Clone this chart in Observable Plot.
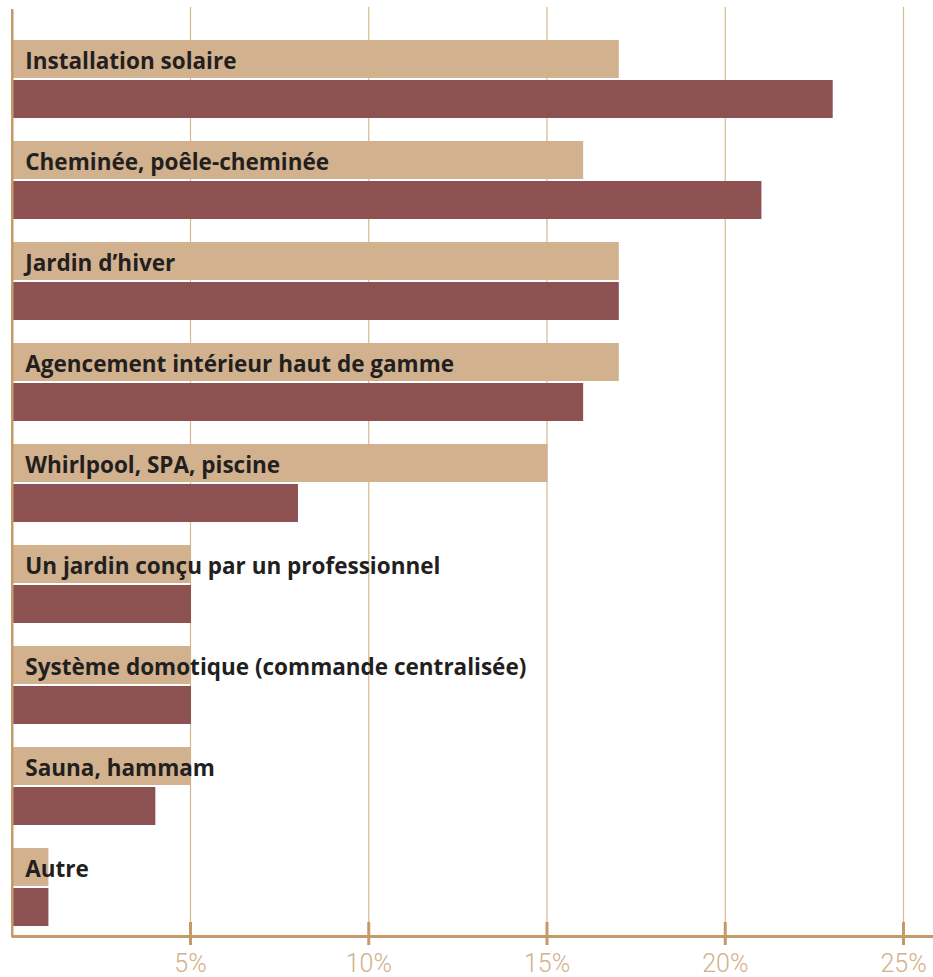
<!DOCTYPE html>
<html>
<head>
<meta charset="utf-8">
<script src="https://cdn.jsdelivr.net/npm/d3@7"></script>
<script src="https://cdn.jsdelivr.net/npm/@observablehq/plot@0.6"></script>
<style>
  html, body { margin: 0; padding: 0; background: #fff; }
</style>
</head>
<body>
<div id="chart"></div>
<script>
const categories = [
  "Installation solaire",
  "Cheminée, poêle-cheminée",
  "Jardin d’hiver",
  "Agencement intérieur haut de gamme",
  "Whirlpool, SPA, piscine",
  "Un jardin conçu par un professionnel",
  "Système domotique (commande centralisée)",
  "Sauna, hammam",
  "Autre"
];
const seriesA = [17, 16, 17, 17, 15, 5, 5, 5, 1];   // tan (upper) bars
const seriesB = [23, 21, 17, 16, 8, 5, 5, 4, 1];    // dark (lower) bars
const xTicks = [5, 10, 15, 20, 25];

const dataA = categories.map((c, i) => ({category: c, value: seriesA[i]}));
const dataB = categories.map((c, i) => ({category: c, value: seriesB[i]}));

const tan = "#d1b18e";
const dark = "#8e5151";
const gridColor = "#d6b990";
const axisColor = "#c49a68";

const chart = Plot.plot({
  width: 933,
  height: 977,
  marginLeft: 11,
  marginRight: 30,
  marginTop: 7,
  marginBottom: 40,
  style: {background: "#fff", overflow: "visible"},
  x: {
    domain: [0, 25],
    range: [11.75, 903],
    ticks: xTicks,
    tickFormat: d => d + "%",
    tickSize: 0,
    tickPadding: 17,
    label: null
  },
  y: {
    domain: categories,
    range: [39, 927],
    padding: 0.2296,
    paddingOuter: 0,
    axis: null
  },
  marks: [
    Plot.ruleX(xTicks, {stroke: gridColor, strokeWidth: 1.2}),
    Plot.barX(dataA, {x: "value", y: "category", fill: tan, insetBottom: 40, insetLeft: 0.5, insetRight: -1}),
    Plot.barX(dataB, {x: "value", y: "category", fill: dark, insetTop: 40, insetLeft: 0.5, insetRight: -1}),
    Plot.ruleX([0], {stroke: axisColor, strokeWidth: 2.5, insetTop: 2}),
    Plot.ruleY(categories.slice(-1), {y: d => d, stroke: axisColor, strokeWidth: 3, x1: 0, x2: 26.2, dy: 49}),
    Plot.ruleX(xTicks, {stroke: axisColor, strokeWidth: 3, insetTop: 915, insetBottom: -8}),
    Plot.text(categories, {
      x: 0, y: d => d, text: d => d,
      textAnchor: "start", dx: 13, dy: -18,
      fill: "#231f20", fontWeight: "bold", fontSize: 22.5,
      fontFamily: "Open Sans"
    })
  ]
});

chart.querySelectorAll('g[aria-label^="x-axis"]').forEach(g => {
  g.setAttribute("font-family", "Roboto");
  g.setAttribute("font-size", "25");
  g.setAttribute("font-weight", "300");
  g.setAttribute("fill", "#d2b08a");
});
chart.querySelectorAll('g[aria-label^="x-axis"] text').forEach(t => {
  t.setAttribute("fill", "#d2b08a");
});
document.getElementById("chart").appendChild(chart);
</script>
</body>
</html>
